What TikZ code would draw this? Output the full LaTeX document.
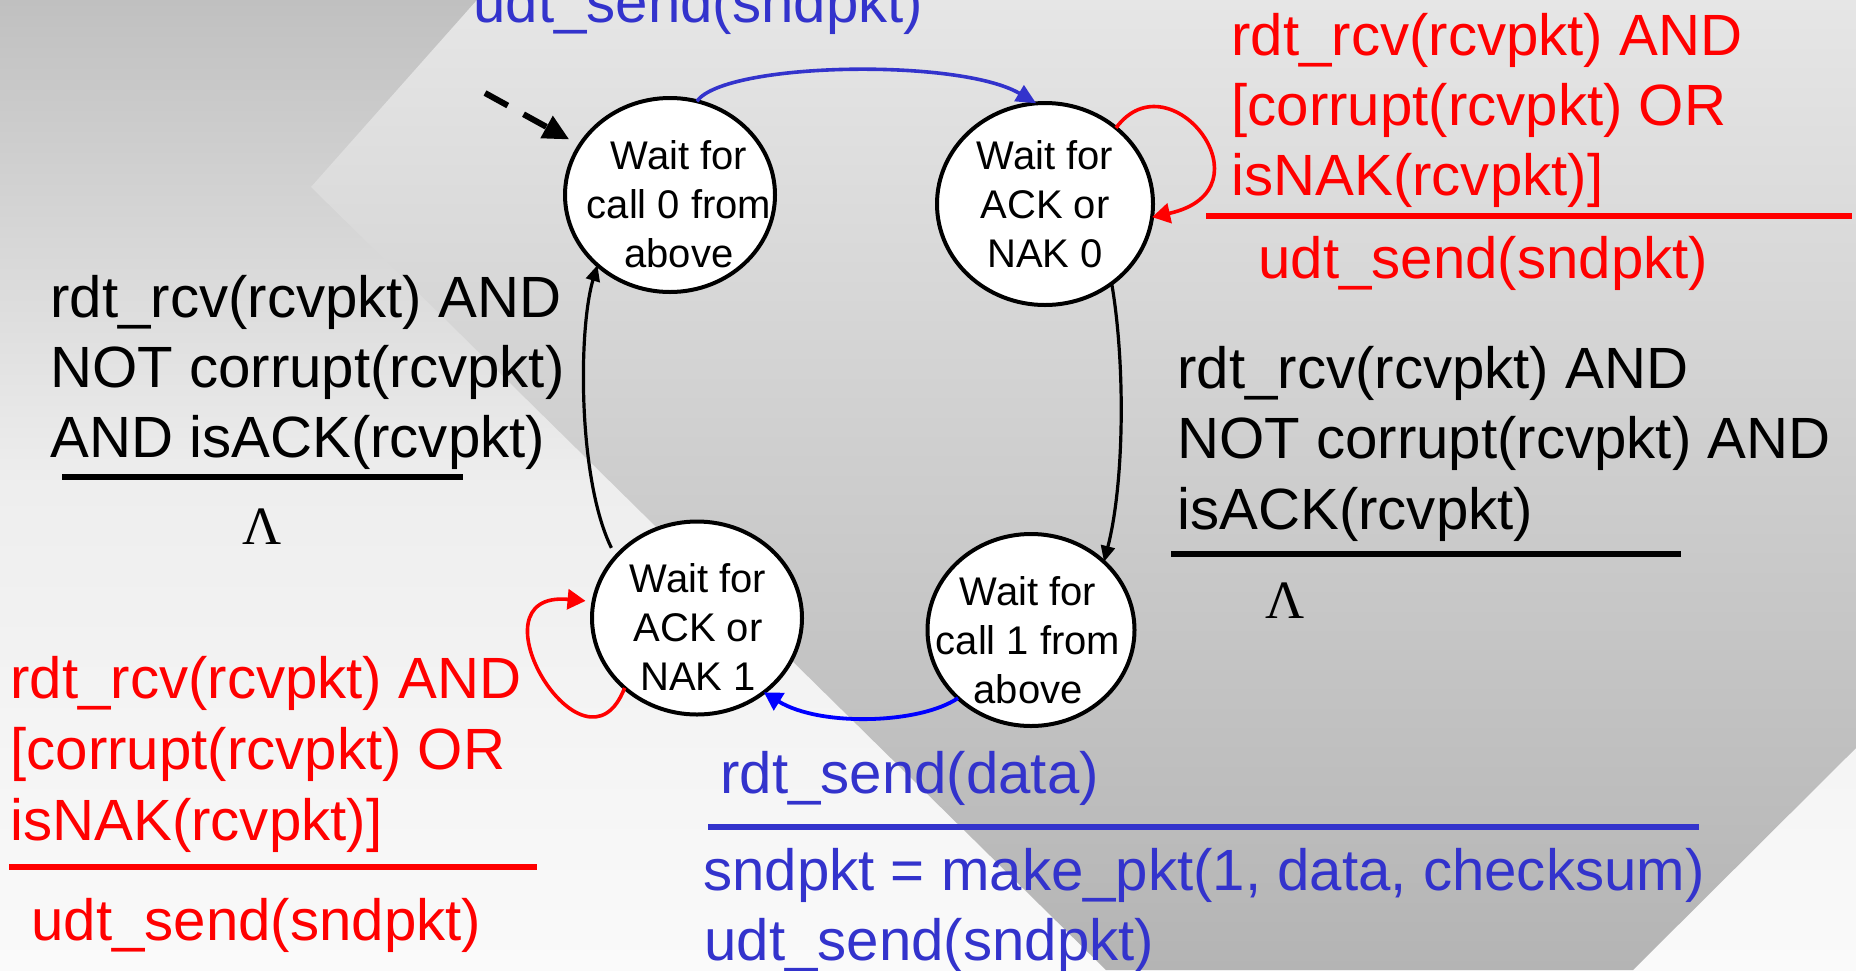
\documentclass[tikz,border=0pt]{standalone}
\usepackage{fontspec}
\setmainfont{Liberation Sans}
\newfontfamily\greekserif{Liberation Serif}
\usetikzlibrary{arrows.meta,shapes.geometric}

\definecolor{fsmblue}{RGB}{51,51,204}
\definecolor{arcblue}{RGB}{0,0,255}
\definecolor{fsmred}{RGB}{255,0,0}
\definecolor{bgtop}{RGB}{192,192,192}
\definecolor{bgmid}{RGB}{238,238,238}
\definecolor{bgbot}{RGB}{250,250,250}
\definecolor{bandtop}{RGB}{230,230,230}
\definecolor{bandbot}{RGB}{180,180,180}

\begin{document}
\begin{tikzpicture}[x=0.5pt,y=-0.5pt,
  fsmstate/.style={ellipse, draw=black, line width=2pt, fill=white, inner sep=0pt, outer sep=0pt},
  fsmtext/.style={align=center, inner sep=0pt, font=\fontsize{20}{24.5}\selectfont},
  guard/.style={anchor=base west, inner sep=0pt, font=\fontsize{29.1}{35}\selectfont},
  lam/.style={anchor=base, inner sep=0pt, font=\greekserif\fontsize{27}{30}\selectfont},
  sepline/.style={line width=3.2pt},
  blackedge/.style={draw=black, line width=1.6pt, -{Triangle[length=8pt,width=7pt]}},
  blueedge/.style={draw=fsmblue, line width=1.8pt, -{Triangle[length=10pt,width=9pt]}},
  bottomedge/.style={draw=arcblue, line width=1.9pt, -{Triangle[length=9pt,width=10pt]}},
  rededge/.style={draw=fsmred, line width=1.8pt, -{Triangle[length=9pt,width=10pt]}},
  initedge/.style={draw=black, line width=3pt, dash pattern=on 13pt off 9pt, -{Triangle[length=13pt,width=12pt]}}
]
\useasboundingbox (0,0) rectangle (1856,970);
\clip (0,0) rectangle (1856,970);

% background: light gradient with a darker band in reverse gradient
\shade[top color=bgtop, bottom color=bgbot, middle color=bgmid] (0,0) rectangle (1856,970);
\shade[top color=bandtop, bottom color=bandbot]
  (477,0) -- (1856,0) -- (1856,748) -- (1633,970) -- (1106,970) -- (311,187) -- cycle;

% states
\node[fsmstate, minimum width=105pt, minimum height=97pt] (s0) at (670,195) {};
\node[fsmstate, minimum width=108pt, minimum height=101pt] (s1) at (1045,204) {};
\node[fsmstate, minimum width=103.5pt, minimum height=96pt] (s2) at (1031,630) {};
\node[fsmstate, minimum width=105pt, minimum height=96.5pt] (s3) at (697,618) {};

\node[fsmtext] (s0t) at (679,204) {Wait for\\call 0 from\\above};
\node[fsmtext] (s1t) at (1045,204) {Wait for\\ACK or\\NAK 0};
\node[fsmtext] (s2t) at (1028,640) {Wait for\\call 1 from\\above};
\node[fsmtext] (s3t) at (698,627) {Wait for\\ACK or\\NAK 1};

% transitions
\coordinate (init) at (485,93);
\draw[initedge, shorten >=6pt] (init) -- (s0);
\draw[blueedge] (s0.74) .. controls (725,62) and (960,58) .. (s1.95);
\draw[rededge] (s1.47) .. controls (1170,55) and (1275,190) .. (s1.353);
\draw[blackedge] (s1.-50) .. controls (1125,360) and (1125,480) .. (s2.43);
\draw[bottomedge] (s2.223) .. controls (920,724) and (820,727) .. (s3.-48);
\draw[rededge, shorten >=4pt] (s3.224) .. controls (585,790) and (465,590) .. (s3.171);
\draw[blackedge, shorten <=5pt] (s3.143) .. controls (578,480) and (578,330) .. (s0.224);

% top: send of packet 0
\node[guard, text=fsmblue] (tsend) at (473,22) {udt\_send(sndpkt)};

% top right: corrupt or NAK while waiting for ACK 0
\node[guard, text=fsmred] (ra1) at (1231,55) {rdt\_rcv(rcvpkt) AND};
\node[guard, text=fsmred] (ra2) at (1231,125) {[corrupt(rcvpkt) OR};
\node[guard, text=fsmred] (ra3) at (1231,195) {isNAK(rcvpkt)]};
\draw[sepline, fsmred] (1206,216) -- (1852,216);
\node[guard, text=fsmred] (ra4) at (1258,278) {udt\_send(sndpkt)};

% right: ACK 0 received
\node[guard] (ka1) at (1177,388) {rdt\_rcv(rcvpkt) AND};
\node[guard] (ka2) at (1177,458) {NOT corrupt(rcvpkt) AND};
\node[guard] (ka3) at (1177,529) {isACK(rcvpkt)};
\draw[sepline, black] (1171,554) -- (1681,554);
\node[lam] (ka4) at (1285,618) {Λ};

% left: ACK 1 received
\node[guard] (kb1) at (50,317) {rdt\_rcv(rcvpkt) AND};
\node[guard] (kb2) at (50,387) {NOT corrupt(rcvpkt)};
\node[guard] (kb3) at (50,457) {AND isACK(rcvpkt)};
\draw[sepline, black] (62,477) -- (463,477);
\node[lam] (kb4) at (262,544) {Λ};

% bottom left: corrupt or NAK while waiting for ACK 1
\node[guard, text=fsmred] (rb1) at (10,698) {rdt\_rcv(rcvpkt) AND};
\node[guard, text=fsmred] (rb2) at (10,769) {[corrupt(rcvpkt) OR};
\node[guard, text=fsmred] (rb3) at (10,840) {isNAK(rcvpkt)]};
\draw[sepline, fsmred] (9,867) -- (537,867);
\node[guard, text=fsmred] (rb4) at (31,940) {udt\_send(sndpkt)};

% bottom: send of packet 1
\node[guard, text=fsmblue] (sd1) at (720,793) {rdt\_send(data)};
\draw[sepline, fsmblue] (708,827) -- (1699,827);
\node[guard, text=fsmblue] (sd2) at (703,890) {sndpkt = make\_pkt(1, data, checksum)};
\node[guard, text=fsmblue] (sd3) at (704,960) {udt\_send(sndpkt)};
\end{tikzpicture}
\end{document}
